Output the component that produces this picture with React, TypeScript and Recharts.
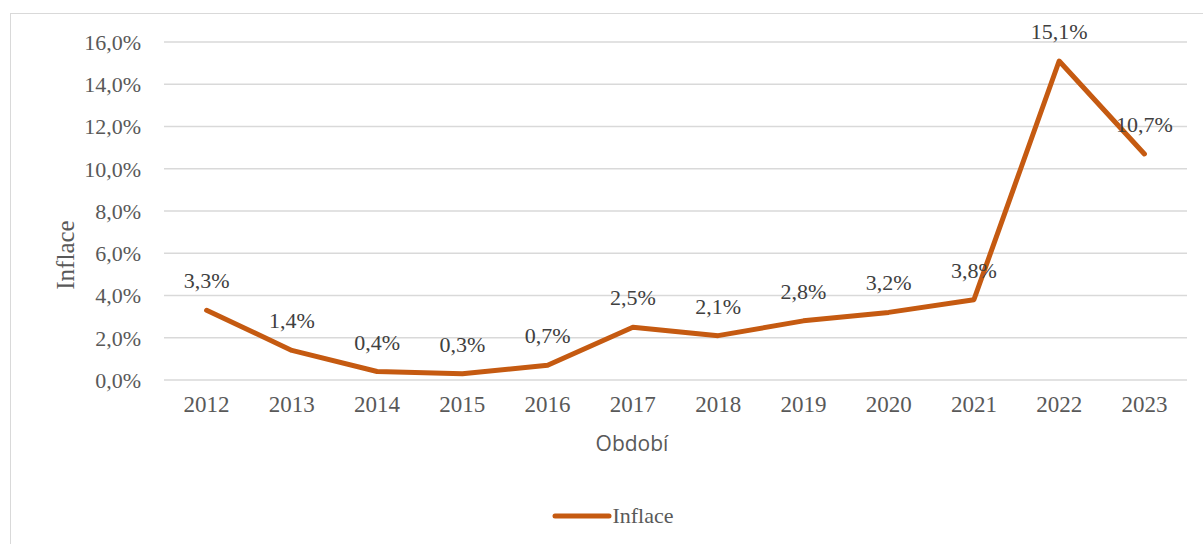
import React from 'react'
import { LineChart, Line, XAxis, YAxis, CartesianGrid, Legend, LabelList, Label } from 'recharts'

const years = ['2012', '2013', '2014', '2015', '2016', '2017', '2018', '2019', '2020', '2021', '2022', '2023']
const inflace = [3.3, 1.4, 0.4, 0.3, 0.7, 2.5, 2.1, 2.8, 3.2, 3.8, 15.1, 10.7]
const yTicks = [0, 2, 4, 6, 8, 10, 12, 14, 16]

const data = years.map((rok, i) => ({ rok, inflace: inflace[i] }))

const serif = '"Liberation Serif", "Times New Roman", serif'
const lineColor = '#c55a11'

const pct = (v: number) => v.toFixed(1).replace('.', ',') + '%'

function LegendContent() {
  return (
    <div style={{ display: 'flex', justifyContent: 'center', alignItems: 'center', height: 24, paddingLeft: 12 }}>
      <svg width={60} height={10}>
        <line x1={3} y1={5} x2={57} y2={5} stroke={lineColor} strokeWidth={5} strokeLinecap="round" />
      </svg>
      <span style={{ fontFamily: serif, fontSize: 22, color: '#595959', marginLeft: 0 }}>Inflace</span>
    </div>
  )
}

export default function App() {
  return (
    <div style={{ position: 'absolute', left: 0, top: 0, width: 1203, height: 544, overflow: 'hidden', background: '#fff' }}>
      <div style={{ position: 'absolute', left: 10, top: 13, width: 1230, height: 560, border: '1px solid #d9d9d9' }}>
        <LineChart width={1192} height={530} data={data} margin={{ top: 28, right: 16, left: 53, bottom: 110 }}>
          <CartesianGrid vertical={false} stroke="#d9d9d9" strokeWidth={1.5} />
          <XAxis
            dataKey="rok"
            height={30}
            padding={{ left: 42.6, right: 42.6 }}
            axisLine={false}
            tickLine={false}
            tickSize={0}
            tickMargin={16}
            tick={{ fontFamily: serif, fontSize: 23, fill: '#595959' }}
            label={
              <Label
                content={() => (
                  <text x={621} y={429} textAnchor="middle" dominantBaseline="central" fontFamily='"Open Sans", sans-serif' fontSize={21} fill="#595959">
                    Období
                  </text>
                )}
              />
            }
          />
          <YAxis
            width={100}
            domain={[0, 16]}
            ticks={yTicks}
            axisLine={false}
            tickLine={false}
            tickSize={0}
            tickMargin={23}
            tickFormatter={pct}
            tick={{ fontFamily: serif, fontSize: 22, fill: '#595959' }}
            label={
              <Label
                content={() => (
                  <text x={54} y={241} textAnchor="middle" dominantBaseline="central" transform="rotate(-90 54 241)" fontFamily={serif} fontSize={25} fill="#595959">
                    Inflace
                  </text>
                )}
              />
            }
          />
          <Legend
            verticalAlign="bottom"
            content={<LegendContent />}
            wrapperStyle={{ top: 490, bottom: 'auto', left: 0, width: 1192, height: 24 }}
          />
          <Line
            dataKey="inflace"
            name="Inflace"
            stroke={lineColor}
            strokeWidth={5}
            strokeLinecap="round"
            strokeLinejoin="round"
            dot={false}
            activeDot={false}
            isAnimationActive={false}
          >
            <LabelList
              dataKey="inflace"
              position="top"
              offset={22}
              formatter={(v: any) => pct(Number(v))}
              style={{ fontFamily: serif, fontSize: 22, fill: '#404040' }}
            />
          </Line>
        </LineChart>
      </div>
    </div>
  )
}
